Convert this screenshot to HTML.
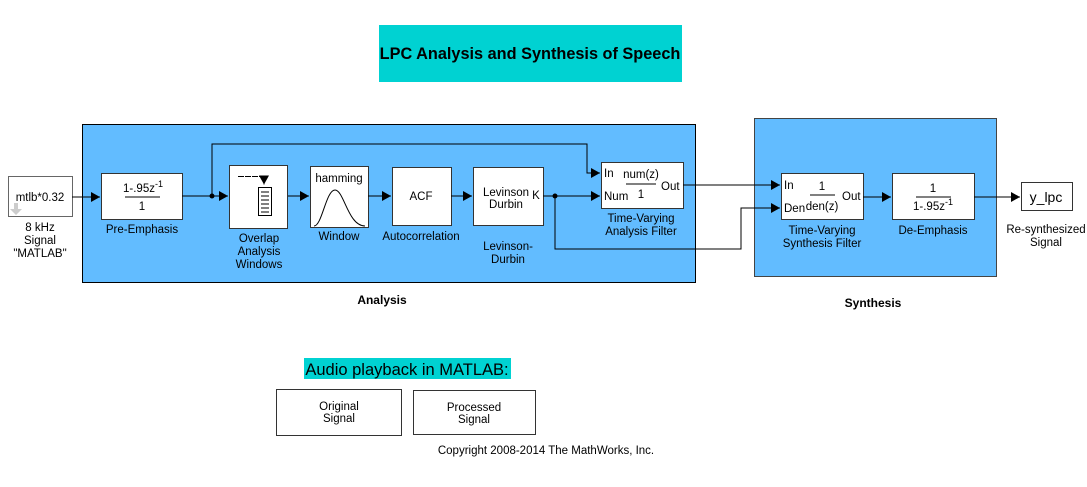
<!DOCTYPE html>
<html><head><meta charset="utf-8"><style>
html,body{margin:0;padding:0;background:#fff;}
svg{display:block;font-family:"Liberation Sans",Arial,sans-serif;}
</style></head><body>
<svg width="1087" height="487" viewBox="0 0 1087 487" xmlns="http://www.w3.org/2000/svg">
<defs>
<marker id="a" markerWidth="10" markerHeight="10" refX="9" refY="5" orient="auto" markerUnits="userSpaceOnUse">
<path d="M0,0 L9,5 L0,10 z" fill="#000"/></marker>
</defs>
<rect x="379" y="25" width="303" height="57" fill="#00d2d2"/>
<text x="530" y="59" font-size="16.3" font-weight="bold" text-anchor="middle">LPC Analysis and Synthesis of Speech</text>

<rect x="82.5" y="124.5" width="613" height="158" fill="#62bcff" stroke="#000"/>
<rect x="754.5" y="118.5" width="242" height="158" fill="#62bcff" stroke="#444"/>
<text x="382" y="304" font-size="12" font-weight="bold" text-anchor="middle">Analysis</text>
<text x="873" y="307" font-size="12" font-weight="bold" text-anchor="middle">Synthesis</text>

<g fill="#fff" stroke="#333">
<rect x="8.5" y="176.5" width="64" height="40" stroke="#666"/>
<rect x="101.5" y="173.5" width="81" height="46"/>
<rect x="229.5" y="165.5" width="58" height="63"/>
<rect x="310.5" y="166.5" width="58" height="61"/>
<rect x="392.5" y="167.5" width="59" height="58"/>
<rect x="473.5" y="167.5" width="70" height="58"/>
<rect x="601.5" y="162.5" width="82" height="46"/>
<rect x="781.5" y="173.5" width="82" height="46"/>
<rect x="892.5" y="173.5" width="82" height="46"/>
<rect x="1021.5" y="182.5" width="51" height="28"/>
<rect x="276.5" y="389.5" width="125" height="46"/>
<rect x="413.5" y="390.5" width="122" height="44"/>
</g>

<g font-size="11.5" text-anchor="middle">
<text x="40" y="201">mtlb*0.32</text>
<path d="M14,203 h4 v6 h4 l-6,6 l-6,-6 h4 z" fill="#ccc"/>
<text x="40" y="231">8 kHz</text><text x="40" y="244">Signal</text><text x="40" y="257">"MATLAB"</text>
<text x="143" y="192">1-.95z<tspan dy="-5" font-size="9">-1</tspan></text>
<line x1="125" y1="197" x2="160" y2="197" stroke="#000"/>
<text x="142" y="210">1</text>
<text x="142" y="233">Pre-Emphasis</text>
<text x="259" y="242">Overlap</text><text x="259" y="255">Analysis</text><text x="259" y="268">Windows</text>
<text x="339" y="182">hamming</text>
<text x="339" y="240">Window</text>
<text x="421" y="200">ACF</text>
<text x="421" y="240">Autocorrelation</text>
<text x="506" y="196">Levinson</text><text x="506" y="208">Durbin</text>
<text x="536" y="199">K</text>
<text x="508" y="250">Levinson-</text><text x="508" y="263">Durbin</text>
<text x="641" y="178">num(z)</text>
<line x1="626" y1="184" x2="656" y2="184" stroke="#000"/>
<text x="641" y="198">1</text>
<text x="641" y="222">Time-Varying</text><text x="641" y="235">Analysis Filter</text>
<text x="822" y="190">1</text>
<line x1="810" y1="195" x2="835" y2="195" stroke="#000"/>
<text x="822" y="210">den(z)</text>
<text x="822" y="234">Time-Varying</text><text x="822" y="247">Synthesis Filter</text>
<text x="933" y="192">1</text>
<line x1="916" y1="197" x2="951" y2="197" stroke="#000"/>
<text x="933" y="210">1-.95z<tspan dy="-5" font-size="9">-1</tspan></text>
<text x="933" y="234">De-Emphasis</text>
<text x="1046" y="233">Re-synthesized</text><text x="1046" y="246">Signal</text>
<text x="339" y="410">Original</text><text x="339" y="422">Signal</text>
<text x="474" y="411">Processed</text><text x="474" y="423">Signal</text>
<text x="546" y="454">Copyright 2008-2014 The MathWorks, Inc.</text>
</g>
<g font-size="11.5">
<text x="604" y="177">In</text><text x="604" y="200">Num</text><text x="661" y="190">Out</text>
<text x="784" y="189">In</text><text x="784" y="212">Den</text><text x="842" y="200">Out</text>
</g>
<text x="1046" y="202" font-size="14" text-anchor="middle">y_lpc</text>

<g stroke="#000" fill="none">
<path d="M238,176.5 h26 v8" marker-end="url(#a)" stroke-dasharray="6,1"/>
<rect x="258.5" y="187.5" width="13" height="28" fill="#fff"/>
<path d="M261,192h8M261,196h8M261,200h8M261,204h8M261,208h8M261,212h8"/>
<path d="M314,226 C322,226 326,190 335,190 C344,190 348,226 365,226"/>
</g>

<g stroke="#000" fill="none">
<path d="M72,197 H100" marker-end="url(#a)"/>
<path d="M182,196 H228" marker-end="url(#a)"/>
<path d="M212,196 V144 H587 V173 H600" marker-end="url(#a)"/>
<path d="M288,196 H309" marker-end="url(#a)"/>
<path d="M368,196 H391" marker-end="url(#a)"/>
<path d="M451,196 H472" marker-end="url(#a)"/>
<path d="M543,196 H600" marker-end="url(#a)"/>
<path d="M555,196 V249 H741 V208 H780" marker-end="url(#a)"/>
<path d="M683,185 H780" marker-end="url(#a)"/>
<path d="M863,197 H891" marker-end="url(#a)"/>
<path d="M974,197 H1020" marker-end="url(#a)"/>
</g>
<circle cx="212" cy="196" r="2.5"/>
<circle cx="555" cy="196" r="2.5"/>

<rect x="304" y="358" width="207" height="21" fill="#00d2d2"/>
<text x="407" y="375" font-size="16.5" text-anchor="middle">Audio playback in MATLAB:</text>
</svg>
</body></html>
